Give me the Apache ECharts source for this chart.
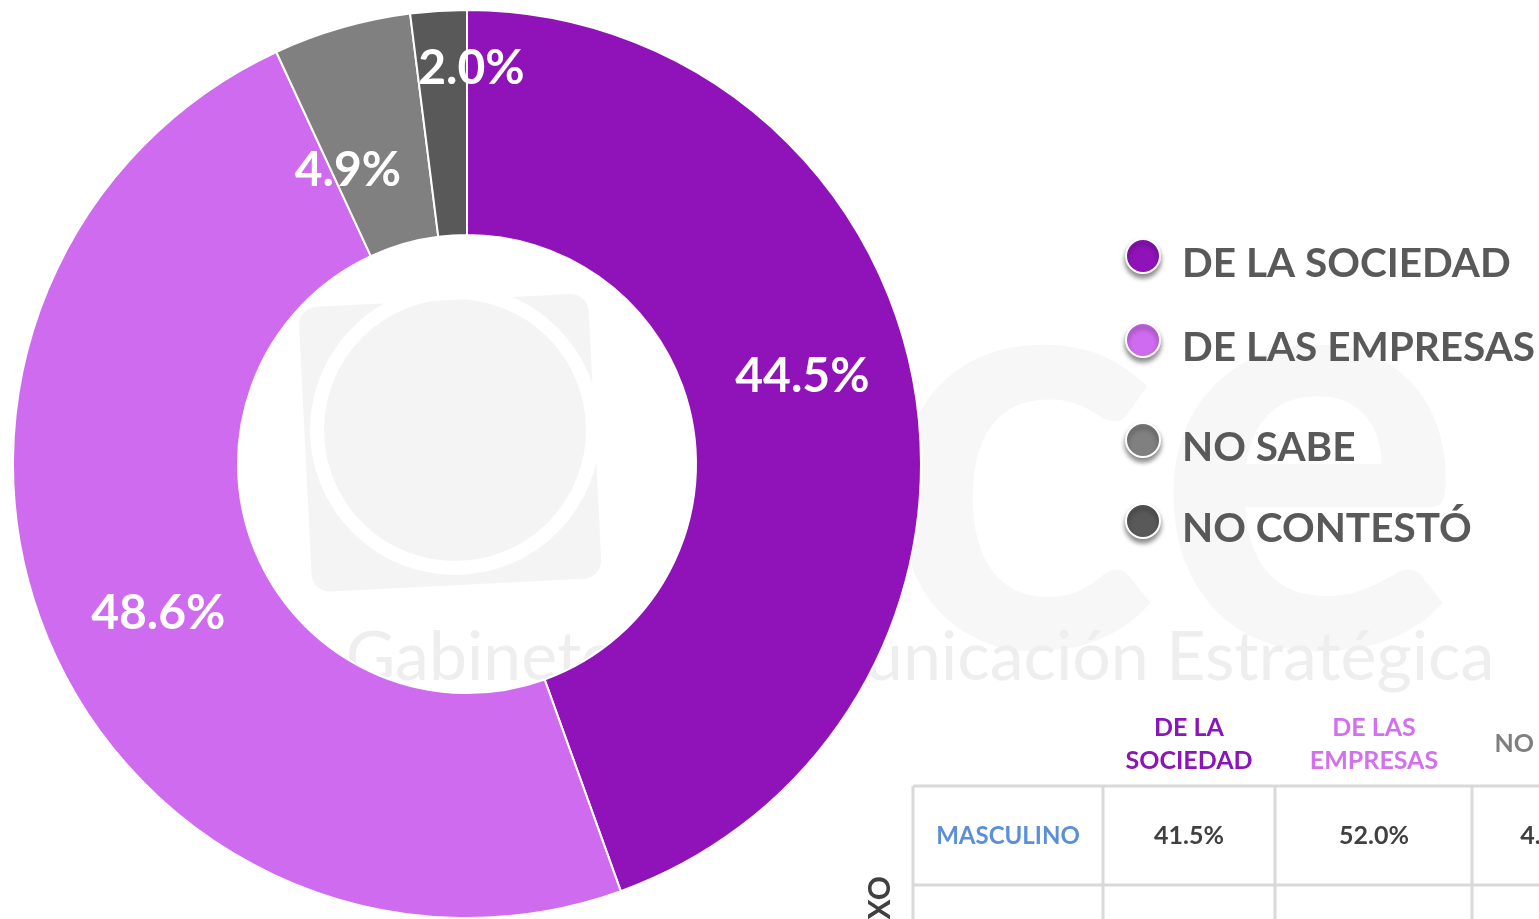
<!DOCTYPE html>
<html><head><meta charset="utf-8">
<script src="https://cdn.jsdelivr.net/npm/echarts@6/dist/echarts.min.js"></script>
<style>html,body{margin:0;padding:0;background:#fff}#c{width:1539px;height:919px}</style>
</head><body><div id="c"></div>
<script>
// ---- data ----
const categories = ['DE LA SOCIEDAD', 'DE LAS EMPRESAS', 'NO SABE', 'NO CONTESTÓ'];
const values = [44.5, 48.6, 4.9, 2.0];
const tableHeaders = ['DE LA\nSOCIEDAD', 'DE LAS\nEMPRESAS', 'NO SABE'];
const tableRowLabels = ['MASCULINO'];
const tableMasculino = [41.5, 52.0, 4.6];
const tableGroupLabel = 'SEXO';
const watermarkText = 'Gabinete de Comunicación Estratégica';

// ---- styling / layout ----
const colors = ['#9013BA', '#CF6BEF', '#808080', '#595959'];
const headerColors = ['#8B15B9', '#D370F0', '#7F7F7F'];
const labelShift = [[-4, -28], [10, 19], [-24, 38], [26, -52]];
const legendCenters = [256, 340, 440, 521];
const FONT = 'Lato';

const chart = echarts.init(document.getElementById('c'), null, {renderer: 'canvas'});

const legends = categories.map((name, i) => ({
  left: 1125, top: legendCenters[i] - 28, orient: 'vertical', padding: 0,
  data: [name], icon: 'circle', itemWidth: 34, itemHeight: 34,
  selectedMode: false,
  formatter: n => '{t|' + n + '}{s|}',
  itemStyle: {borderColor: '#fff', borderWidth: 2, shadowColor: 'rgba(0,0,0,0.45)', shadowBlur: 5, shadowOffsetY: 4},
  textStyle: {fontFamily: FONT, fontWeight: 'bold', fontSize: 40.5, color: '#595959', padding: [0, 0, 0, 17],
    rich: {
      t: {fontFamily: FONT, fontWeight: 'bold', fontSize: 40.5, color: '#595959', lineHeight: 34, verticalAlign: 'bottom'},
      s: {lineHeight: 56, height: 56, width: 0}
    }}
}));

// table geometry
const colX = [913, 1103, 1275, 1472];
const colCenters = [1008, 1189, 1374, 1548];
const rowY = [786, 885];
const lineColor = '#D9D9D9';
const wm = '#F4F4F4';
const graphics = [];
// watermark
graphics.push({type: 'text', z: 0, silent: true, left: 880, top: 170,
  style: {text: 'ce', font: 'bold 580px ' + FONT, fill: '#F7F7F7'}});
graphics.push({type: 'rect', z: 0, silent: true, x: 455, y: 440, originX: 0, originY: 0, rotation: 0.05,
  shape: {x: -150, y: -140, width: 290, height: 285, r: 18}, style: {fill: wm}});
graphics.push({type: 'circle', z: 0, silent: true, shape: {cx: 455, cy: 430, r: 138}, style: {fill: 'none', stroke: '#FFFFFF', lineWidth: 14}});
graphics.push({type: 'text', z: 0, silent: true, x: 920, y: 658,
  style: {text: watermarkText, font: '68px ' + FONT, fill: '#EEEEEE', align: 'center', verticalAlign: 'middle'}});
// grid lines
rowY.forEach(y => graphics.push({type: 'line', z: 5, shape: {x1: colX[0], y1: y, x2: 1539, y2: y}, style: {stroke: lineColor, lineWidth: 3}}));
colX.forEach(x => graphics.push({type: 'line', z: 5, shape: {x1: x, y1: rowY[0], x2: x, y2: 919}, style: {stroke: lineColor, lineWidth: 3}}));
// headers
tableHeaders.forEach((h, i) => graphics.push({type: 'text', z: 6, x: colCenters[i + 1], y: 744,
  style: {text: h, font: 'bold 25px ' + FONT, fill: headerColors[i], align: 'center', verticalAlign: 'middle', lineHeight: 33}}));
// row
tableRowLabels.forEach((r, ri) => {
  graphics.push({type: 'text', z: 6, x: colCenters[0], y: 836,
    style: {text: r, font: 'bold 24px ' + FONT, fill: '#5B8FD9', align: 'center', verticalAlign: 'middle'}});
  tableMasculino.forEach((v, i) => graphics.push({type: 'text', z: 6, x: colCenters[i + 1], y: 836,
    style: {text: v.toFixed(1) + '%', font: 'bold 25px ' + FONT, fill: '#404040', align: 'center', verticalAlign: 'middle'}}));
});
graphics.push({type: 'text', z: 6, x: 880, y: 876, rotation: Math.PI / 2,
  style: {text: tableGroupLabel, font: 'bold 30px ' + FONT, fill: '#404040', align: 'right', verticalAlign: 'middle'}});

chart.setOption({
  backgroundColor: '#ffffff',
  animation: false,
  color: colors,
  legend: legends,
  graphic: {elements: graphics},
  series: [{
    type: 'pie', z: 2,
    center: [467, 464], radius: [229, 454],
    startAngle: 90, clockwise: true,
    avoidLabelOverlap: false,
    itemStyle: {borderColor: '#ffffff', borderWidth: 2},
    label: {show: true, position: 'inside', formatter: p => p.value.toFixed(1) + '%',
      fontFamily: FONT, fontWeight: 'bold', fontSize: 48, color: '#ffffff'},
    labelLine: {show: false},
    labelLayout: p => ({dx: labelShift[p.dataIndex][0], dy: labelShift[p.dataIndex][1]}),
    emphasis: {disabled: true},
    data: categories.map((name, i) => ({name, value: values[i]}))
  }]
});
</script></body></html>
